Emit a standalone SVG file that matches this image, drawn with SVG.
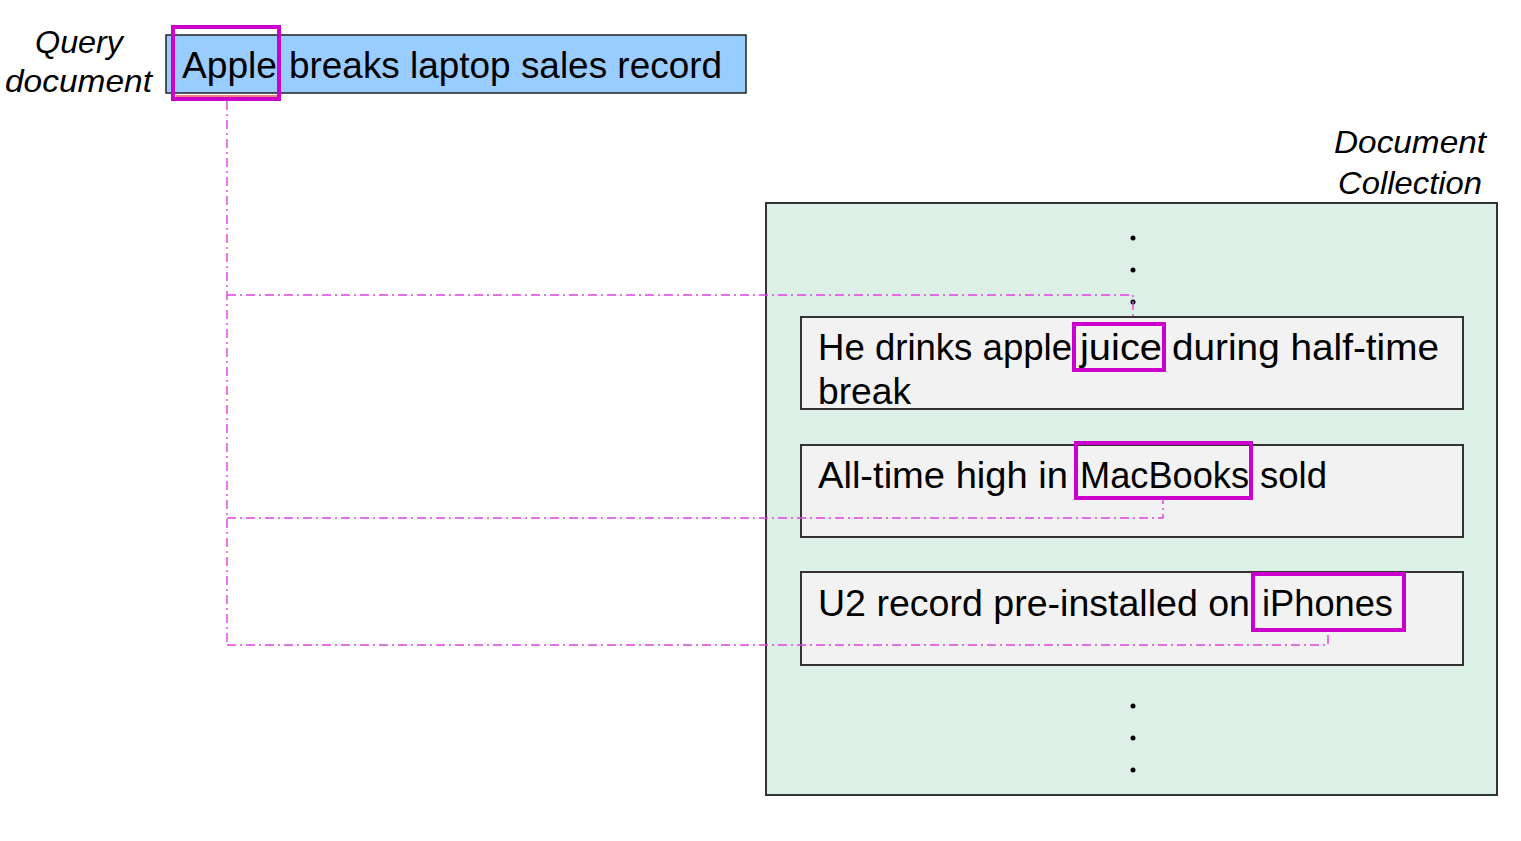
<svg xmlns="http://www.w3.org/2000/svg" width="1521" height="841" viewBox="0 0 1521 841">
<defs>
<style>
.t{font-family:"Liberation Sans",Arial,sans-serif;font-size:37px;fill:#000;}
.it{font-family:"Liberation Sans",Arial,sans-serif;font-size:32px;font-style:italic;fill:#000;}
.doc{fill:#F2F2F2;stroke:#333;stroke-width:2;}
.hl{fill:none;stroke:#CC00CC;stroke-width:4;}
.conn{fill:none;stroke:#E040E0;stroke-width:1.4;stroke-dasharray:9 4 2 4;}
.dot{fill:#000;}
</style>
</defs>
<rect width="1521" height="841" fill="#fff"/>

<g id="query-label">
<text class="it" x="79" y="53" text-anchor="middle" textLength="88" lengthAdjust="spacingAndGlyphs">Query</text>
<text class="it" x="5" y="92" textLength="147" lengthAdjust="spacingAndGlyphs">document</text>
</g>

<g id="collection-label">
<text class="it" x="1334" y="153" textLength="152" lengthAdjust="spacingAndGlyphs">Document</text>
<text class="it" x="1338" y="194" textLength="144" lengthAdjust="spacingAndGlyphs">Collection</text>
</g>

<g id="collection">
<rect x="766" y="203" width="731" height="592" fill="#DDF0E8" stroke="#333" stroke-width="2"/>
<circle class="dot" cx="1133" cy="238" r="2.5"/>
<circle class="dot" cx="1133" cy="270" r="2.5"/>
<circle class="dot" cx="1133" cy="302" r="2.5"/>
<circle class="dot" cx="1133" cy="706" r="2.5"/>
<circle class="dot" cx="1133" cy="738" r="2.5"/>
<circle class="dot" cx="1133" cy="770" r="2.5"/>
</g>

<g id="query">
<rect x="166" y="35" width="580" height="58" fill="#99CCFF" stroke="#222" stroke-width="1.5"/>
<text class="t" x="182" y="78" textLength="95" lengthAdjust="spacingAndGlyphs">Apple</text>
<text class="t" x="289" y="78" textLength="433" lengthAdjust="spacingAndGlyphs">breaks laptop sales record</text>
<line x1="176" y1="96" x2="277" y2="96" stroke="#E00000" stroke-width="1"/>
<rect class="hl" x="173" y="27" width="106" height="72"/>
</g>

<g id="doc1">
<rect class="doc" x="801" y="317" width="662" height="92"/>
<text class="t" x="818" y="360" textLength="254" lengthAdjust="spacingAndGlyphs">He drinks apple</text>
<text class="t" x="1080" y="360" textLength="82" lengthAdjust="spacingAndGlyphs">juice</text>
<text class="t" x="1172" y="360" textLength="267" lengthAdjust="spacingAndGlyphs">during half-time</text>
<text class="t" x="818" y="404" textLength="93" lengthAdjust="spacingAndGlyphs">break</text>
<rect class="hl" x="1074" y="324" width="90" height="46"/>
</g>

<g id="doc2">
<rect class="doc" x="801" y="445" width="662" height="92"/>
<text class="t" x="818" y="488" textLength="250" lengthAdjust="spacingAndGlyphs">All-time high in</text>
<text class="t" x="1080" y="488" textLength="169" lengthAdjust="spacingAndGlyphs">MacBooks</text>
<text class="t" x="1260" y="488" textLength="67" lengthAdjust="spacingAndGlyphs">sold</text>
<rect class="hl" x="1076" y="443" width="175" height="55"/>
</g>

<g id="doc3">
<rect class="doc" x="801" y="572" width="662" height="93"/>
<text class="t" x="818" y="616" textLength="432" lengthAdjust="spacingAndGlyphs">U2 record pre-installed on</text>
<text class="t" x="1262" y="616" textLength="131" lengthAdjust="spacingAndGlyphs">iPhones</text>
<rect class="hl" x="1253" y="574" width="151" height="56"/>
</g>

<g id="connectors">
<path class="conn" d="M227 101 V645"/>
<path class="conn" d="M227 295 H1133 V317"/>
<path class="conn" d="M227 518 H1163 V500"/>
<path class="conn" d="M227 645 H1328 V632"/>
</g>
</svg>
